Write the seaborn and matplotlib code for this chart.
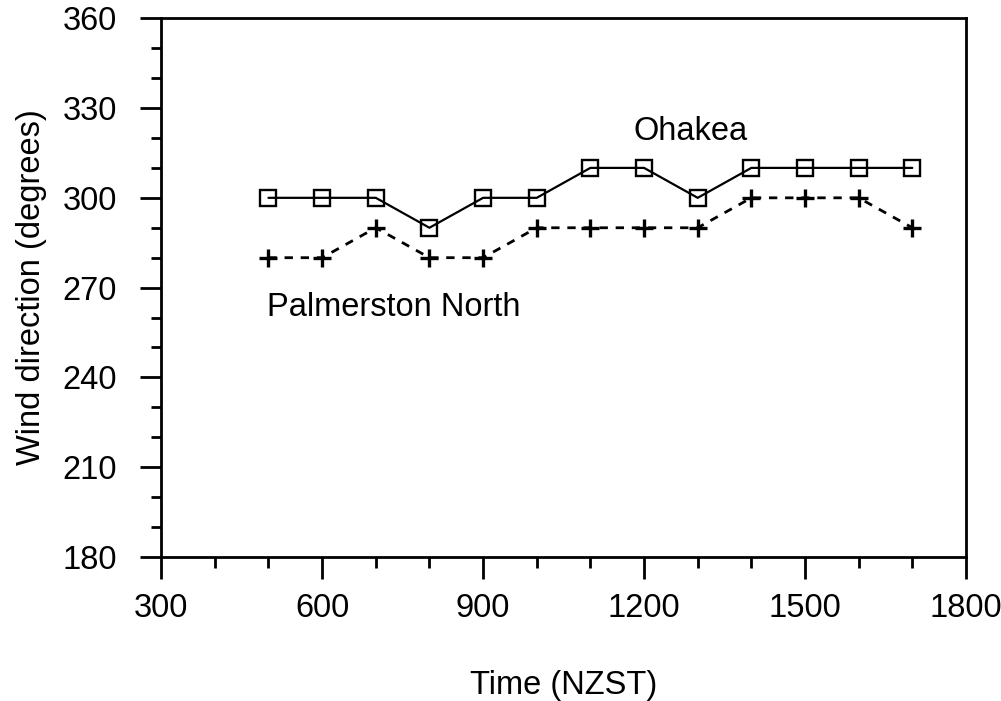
import numpy as np
import pandas as pd
import matplotlib
matplotlib.use("Agg")
import matplotlib.pyplot as plt
import seaborn as sns
from matplotlib.ticker import MultipleLocator

time = [500, 600, 700, 800, 900, 1000, 1100, 1200, 1300, 1400, 1500, 1600, 1700]
ohakea = [300, 300, 300, 290, 300, 300, 310, 310, 300, 310, 310, 310, 310]
palmerston = [280, 280, 290, 280, 280, 290, 290, 290, 290, 300, 300, 300, 290]
x_ticks = [300, 600, 900, 1200, 1500, 1800]
y_ticks = [180, 210, 240, 270, 300, 330, 360]

df_o = pd.DataFrame({"time": time, "dir": ohakea})
df_p = pd.DataFrame({"time": time, "dir": palmerston})

sns.set_style("ticks")
plt.rcParams["font.family"] = ["Liberation Sans", "DejaVu Sans"]
plt.rcParams["text.color"] = "black"
plt.rcParams["axes.labelcolor"] = "black"
plt.rcParams["xtick.color"] = "black"
plt.rcParams["ytick.color"] = "black"

FS = 23.5

fig, ax = plt.subplots(figsize=(10.01, 7.01), dpi=100)
fig.subplots_adjust(left=0.161, right=0.965, top=0.974, bottom=0.2054)

sns.lineplot(data=df_o, x="time", y="dir", ax=ax,
             color="black", linewidth=1.6, marker="s", markersize=12,
             markerfacecolor="none", markeredgecolor="black", markeredgewidth=1.7)
sns.lineplot(data=df_p, x="time", y="dir", ax=ax,
             color="black", linewidth=2.0, linestyle=(0, (3, 2.8)))
sns.scatterplot(data=df_p, x="time", y="dir", ax=ax,
                color="black", marker="+", s=180, linewidth=2.4, zorder=5)

ax.set_xlim(300, 1800)
ax.set_ylim(180, 360)
ax.set_xticks(x_ticks)
ax.set_yticks(y_ticks)
ax.xaxis.set_minor_locator(MultipleLocator(100))
ax.yaxis.set_minor_locator(MultipleLocator(10))

for s in ax.spines.values():
    s.set_linewidth(2.0)
    s.set_color("black")

ax.tick_params(axis="both", which="major", direction="out", width=2.0, color="black",
               labelsize=FS, labelcolor="black", top=False, right=False)
ax.tick_params(axis="y", which="major", length=15, pad=17)
ax.tick_params(axis="y", which="minor", length=7, width=2.0, left=True, right=False)
ax.tick_params(axis="x", which="major", length=16, pad=10)
ax.tick_params(axis="x", which="minor", length=8, width=2.0, bottom=True, top=False)

ax.set_xlabel("Time (NZST)", fontsize=FS, labelpad=33, color="black")
ax.set_ylabel("Wind direction (degrees)", fontsize=FS, labelpad=11, color="black")

ax.text(1180, 322, "Ohakea", fontsize=FS, va="center", ha="left", color="black")
ax.text(497, 263.5, "Palmerston North", fontsize=FS, va="center", ha="left", color="black")

fig.savefig("out.png", dpi=100)
